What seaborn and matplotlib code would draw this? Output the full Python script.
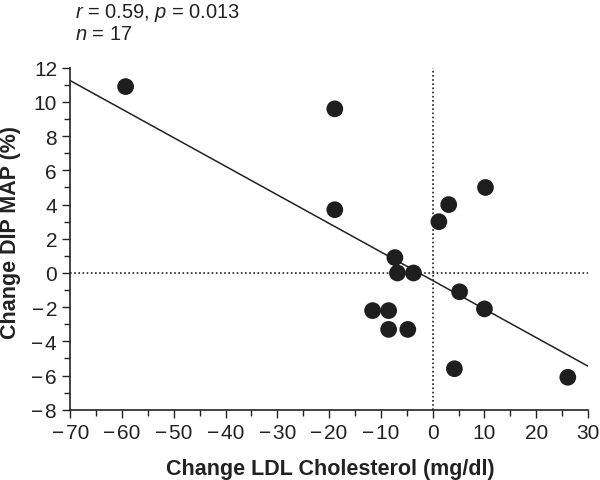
import numpy as np
import pandas as pd
import seaborn as sns
import matplotlib.pyplot as plt
from matplotlib.ticker import MultipleLocator

# values
ldl_change = [-59.3, -18.9, -18.9, -7.3, -6.8, -3.7, -11.6, -8.5, -8.5, -4.8,
              1.2, 3.1, 10.2, 5.2, 10.0, 4.2, 26.1]
map_change = [10.9, 9.6, 3.7, 0.9, 0.0, 0.0, -2.2, -2.2, -3.3, -3.3,
              3.0, 4.0, 5.0, -1.1, -2.1, -5.6, -6.1]
# regression line as printed in the figure
fit_slope = -0.167
fit_intercept = -0.44
stats_line1 = r"$r$ = 0.59, $p$ = 0.013"
stats_line2 = r"$n$ = 17"

df = pd.DataFrame({"ldl": ldl_change, "map": map_change})

sns.set_style("ticks")
plt.rcParams['font.family'] = ['Liberation Sans', 'DejaVu Sans']
plt.rcParams['mathtext.fontset'] = 'custom'
plt.rcParams['mathtext.rm'] = 'Liberation Sans'
plt.rcParams['mathtext.it'] = 'Liberation Sans:italic'

ink = '#222222'
fig = plt.figure(figsize=(6.0, 4.81), dpi=100)
ax = fig.add_axes([0.117, 0.146, 0.863, 0.711])
ax.set_xlim(-70, 30)
ax.set_ylim(-8, 12)

# dotted zero lines
ax.axhline(0, color=ink, lw=1.2, ls=(0, (1, 1.5)), zorder=1)
ax.axvline(0, color=ink, lw=1.2, ls=(0, (1, 1.5)), zorder=1)

# fitted line across the whole x range
fx = np.array(ax.get_xlim())
fit_df = pd.DataFrame({"x": fx, "y": fit_intercept + fit_slope * fx})
sns.lineplot(data=fit_df, x="x", y="y", ax=ax, color=ink, lw=1.1, zorder=2)

sns.scatterplot(data=df, x="ldl", y="map", ax=ax, s=145, color="#1e1e1e",
                edgecolor="none", zorder=3)

ax.set_xlim(-70, 30)
ax.set_ylim(-8, 12)
ax.xaxis.set_major_locator(MultipleLocator(10))
ax.xaxis.set_minor_locator(MultipleLocator(5))
ax.yaxis.set_major_locator(MultipleLocator(2))
ax.yaxis.set_minor_locator(MultipleLocator(1))
ax.tick_params(axis='both', which='major', labelsize=15, length=6, width=1,
               color=ink, labelcolor=ink, direction='out')
ax.tick_params(axis='both', which='minor', length=4, width=1, color=ink)
fmt = plt.FuncFormatter(lambda v, p: f"{v:.0f}".replace('-', '\u2212\u200a'))
ax.xaxis.set_major_formatter(fmt)
ax.yaxis.set_major_formatter(fmt)
for s in ['top', 'right']:
    ax.spines[s].set_visible(False)
for s in ['left', 'bottom']:
    ax.spines[s].set_color(ink)
    ax.spines[s].set_linewidth(1.2)

ax.set_xlabel("Change LDL Cholesterol (mg/dl)", fontsize=15.5, fontweight='bold',
              color=ink)
ax.set_ylabel("Change DIP MAP (%)", fontsize=15.5, fontweight='bold', color=ink)
ax.xaxis.set_label_coords(0.502, -0.14)
ax.yaxis.set_label_coords(-0.095, 0.52)

fig.text(0.125, 0.962, stats_line1, fontsize=14.5, color=ink, va='baseline')
fig.text(0.125, 0.917, stats_line2, fontsize=14.5, color=ink, va='baseline')

fig.savefig("out.png", dpi=100)
